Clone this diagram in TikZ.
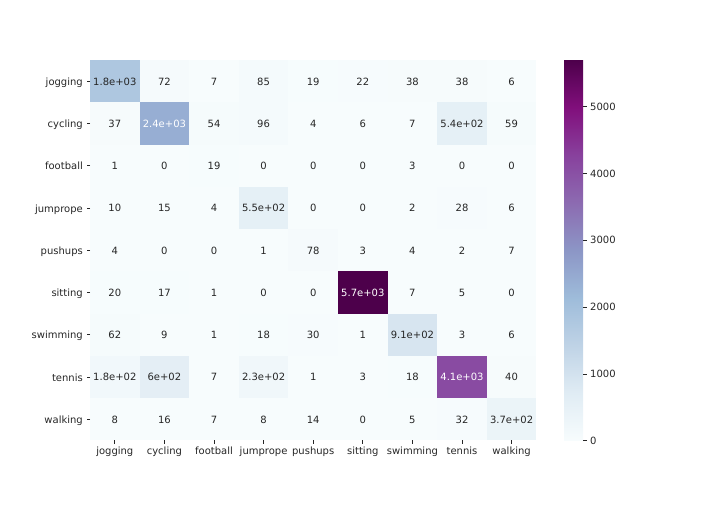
\documentclass[tikz,border=0pt]{standalone}
\usepackage{fontspec}
\setmainfont{DejaVu Sans}
\definecolor{bp0}{RGB}{247,252,253}
\definecolor{bp1}{RGB}{224,236,244}
\definecolor{bp2}{RGB}{191,211,230}
\definecolor{bp3}{RGB}{158,188,218}
\definecolor{bp4}{RGB}{140,150,198}
\definecolor{bp5}{RGB}{140,107,177}
\definecolor{bp6}{RGB}{136,65,157}
\definecolor{bp7}{RGB}{129,15,124}
\definecolor{bp8}{RGB}{77,0,75}
\definecolor{txt}{RGB}{38,38,38}
\pgfdeclareverticalshading{bupu}{100bp}{color(0bp)=(bp0); color(25bp)=(bp0); color(31.25bp)=(bp1); color(37.5bp)=(bp2); color(43.75bp)=(bp3); color(50bp)=(bp4); color(56.25bp)=(bp5); color(62.5bp)=(bp6); color(68.75bp)=(bp7); color(75bp)=(bp8); color(100bp)=(bp8)}
\tikzset{
  lbl/.style={font=\fontsize{10}{12}\selectfont, text=txt, inner sep=0pt},
  axl/.style={lbl, text height=7.3pt, text depth=0pt},
  tk/.style={draw=txt, line width=0.8pt}
}
\newcommand\hmcell[4]{%
  \pgfmathsetmacro\hmt{#3/5700*8}%
  \pgfmathtruncatemacro\hmi{min(floor(\hmt),7)}%
  \pgfmathtruncatemacro\hmj{\hmi+1}%
  \pgfmathsetmacro\hmp{(\hmt-\hmi)*100}%
  \colorlet{hmc}{bp\hmj!\hmp!bp\hmi}%
  \pgfmathsetmacro\hmx{90+#2*49.6}%
  \pgfmathsetmacro\hmy{60+#1*42.26}%
  \ifnum#3>2000 \def\hmtc{white}\else\def\hmtc{txt}\fi
  \fill[hmc] (\hmx,\hmy) rectangle ++(49.6,42.26);
  \node[lbl, text=\hmtc] (c#1-#2) at (\hmx+24.8,\hmy+21.5) {#4};
}
\begin{document}
\begin{tikzpicture}[x=1pt,y=-1pt]
\path[use as bounding box] (0,0) rectangle (720,504);
\foreach [count=\r from 0] \row in {
 {1800/1.8e+03,72/72,7/7,85/85,19/19,22/22,38/38,38/38,6/6},
 {37/37,2400/2.4e+03,54/54,96/96,4/4,6/6,7/7,540/5.4e+02,59/59},
 {1/1,0/0,19/19,0/0,0/0,0/0,3/3,0/0,0/0},
 {10/10,15/15,4/4,550/5.5e+02,0/0,0/0,2/2,28/28,6/6},
 {4/4,0/0,0/0,1/1,78/78,3/3,4/4,2/2,7/7},
 {20/20,17/17,1/1,0/0,0/0,5700/5.7e+03,7/7,5/5,0/0},
 {62/62,9/9,1/1,18/18,30/30,1/1,910/9.1e+02,3/3,6/6},
 {180/1.8e+02,600/6e+02,7/7,230/2.3e+02,1/1,3/3,18/18,4100/4.1e+03,40/40},
 {8/8,16/16,7/7,8/8,14/14,0/0,5/5,32/32,370/3.7e+02}}
{
  \foreach [count=\c from 0] \v/\l in \row {\hmcell{\r}{\c}{\v}{\l}}
}
% axis tick labels
\foreach [count=\i from 0] \n in {jogging,cycling,football,jumprope,pushups,sitting,swimming,tennis,walking}{
  \coordinate (yt\i) at (90,{60+(\i+0.5)*42.26});
  \draw[tk] (yt\i) -- ++(-3.5,0) coordinate (yte\i);
  \node[axl, anchor=east] (yl\i) at ([xshift=-3.5pt,yshift=-0.5pt]yte\i) {\n};
  \coordinate (xt\i) at ({90+(\i+0.5)*49.6},440.4);
  \draw[tk] (xt\i) -- ++(0,3.5) coordinate (xte\i);
  \node[axl, anchor=north] (xl\i) at ([yshift=-3.5pt]xte\i) {\n};
}
% colorbar
\shade[shading=bupu] (564,60) rectangle (583,440.7);
\foreach [count=\k from 0] \t in {0,1000,2000,3000,4000,5000}{
  \coordinate (ct\k) at (583,{440.7-\t*0.0668});
  \draw[tk] (ct\k) -- ++(3.5,0) coordinate (cte\k);
  \node[axl, anchor=west] (cl\k) at ([xshift=3.5pt]cte\k) {\t};
}
\end{tikzpicture}
\end{document}
